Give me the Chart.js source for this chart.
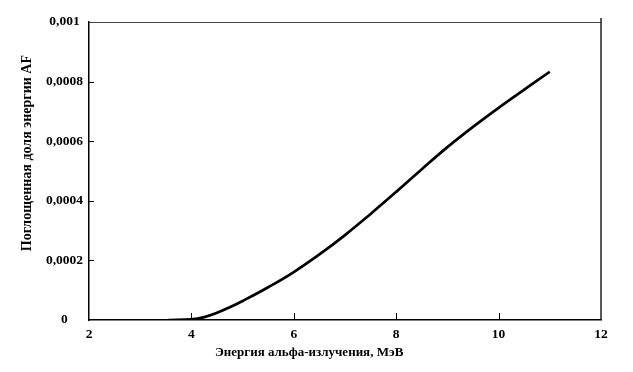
<!DOCTYPE html>
<html>
<head>
<meta charset="utf-8">
<script src="https://cdn.jsdelivr.net/npm/chart.js@4"></script>
<style>
  html, body { margin: 0; padding: 0; background: #fff; }
  #wrap { width: 633px; height: 372px; }
</style>
</head>
<body>
<div id="wrap"><canvas id="chart" width="633" height="372"></canvas></div>
<script>
// energy of alpha radiation, MeV
const energy = [3.55, 4, 4.25, 4.5, 4.75, 5, 5.5, 6, 6.5, 7, 7.5, 8, 8.5, 9, 9.5, 10, 10.5, 11];
// absorbed energy fraction AF
const absorbed = [0, 0.000002, 0.0000095, 0.000024, 0.000043, 0.000064, 0.00011, 0.000161,
    0.00022, 0.000285, 0.000356, 0.00043, 0.000506, 0.00058, 0.000648, 0.000712, 0.000773, 0.000833];

const xTicks = [2, 4, 6, 8, 10, 12];
const yTicks = [0, 0.0002, 0.0004, 0.0006, 0.0008, 0.001];

const xTitle = "Энергия альфа-излучения, МэВ";
const yTitle = "Поглощенная доля энергии AF";

const serif = "'Liberation Serif', 'Times New Roman', serif";
const font = { family: serif, size: 13.5, weight: "bold" };

// inward tick marks, top/right frame and axis titles
const decor = {
    id: "decor",
    afterDraw(chart) {
        const ctx = chart.ctx;
        const a = chart.chartArea;
        const xs = chart.scales.x, ys = chart.scales.y;
        ctx.save();
        ctx.strokeStyle = "#000";
        ctx.lineWidth = 1;
        xTicks.forEach(function (t) {
            if (t === xs.min || t === xs.max) return;
            const px = Math.round(xs.getPixelForValue(t)) + 0.5;
            ctx.beginPath();
            ctx.moveTo(px, a.bottom);
            ctx.lineTo(px, a.bottom - 7);
            ctx.stroke();
        });
        yTicks.forEach(function (t) {
            if (t === ys.min || t === ys.max) return;
            const py = Math.round(ys.getPixelForValue(t)) + 0.5;
            ctx.beginPath();
            ctx.moveTo(a.left, py);
            ctx.lineTo(a.left + 5, py);
            ctx.stroke();
        });
        // top and right frame
        ctx.strokeStyle = "#444";
        ctx.beginPath();
        ctx.moveTo(a.left, a.top + 0.5);
        ctx.lineTo(a.right, a.top + 0.5);
        ctx.stroke();
        ctx.lineWidth = 1.5;
        ctx.strokeStyle = "#222";
        ctx.beginPath();
        ctx.moveTo(a.right, a.top - 4);
        ctx.lineTo(a.right, a.bottom);
        ctx.stroke();

        // axis titles
        ctx.fillStyle = "#000";
        ctx.textAlign = "center";
        ctx.textBaseline = "middle";
        ctx.font = "bold 13px " + serif;
        ctx.fillText(xTitle, a.left + (a.right - a.left) * 0.43, a.bottom + 33);
        ctx.font = "bold 14px " + serif;
        ctx.translate(27, a.top + (a.bottom - a.top) * 0.44);
        ctx.rotate(-Math.PI / 2);
        ctx.fillText(yTitle, 0, 0);
        ctx.restore();
    }
};

const ctx = document.getElementById("chart").getContext("2d");
new Chart(ctx, {
    type: "line",
    data: {
        datasets: [{
            data: energy.map(function (e, i) { return { x: e, y: absorbed[i] }; }),
            borderColor: "#000",
            borderWidth: 2.7,
            pointRadius: 0,
            fill: false,
            tension: 0.4
        }]
    },
    options: {
        responsive: false,
        animation: false,
        layout: { padding: { left: 0, right: 32, top: 22, bottom: 0 } },
        plugins: { legend: { display: false }, tooltip: { enabled: false } },
        scales: {
            x: {
                type: "linear",
                min: 2,
                max: 12,
                afterFit: function (s) { s.height = 52; },
                afterBuildTicks: function (s) { s.ticks = xTicks.map(function (v) { return { value: v }; }); },
                grid: { display: false, drawTicks: false },
                border: { display: true, color: "#000", width: 1.5 },
                ticks: { color: "#000", font: font, padding: 6, maxRotation: 0 }
            },
            y: {
                type: "linear",
                min: 0,
                max: 0.001,
                afterFit: function (s) { s.width = 89; },
                afterBuildTicks: function (s) { s.ticks = yTicks.map(function (v) { return { value: v }; }); },
                grid: { display: false, drawTicks: false },
                border: { display: true, color: "#000", width: 1.5 },
                ticks: {
                    color: "#000",
                    font: font,
                    padding: 6,
                    crossAlign: "center",
                    callback: function (v) {
                        return v === 0 ? "0" : String(Number(v.toFixed(4))).replace(".", ",");
                    }
                }
            }
        }
    },
    plugins: [decor]
});
</script>
</body>
</html>
